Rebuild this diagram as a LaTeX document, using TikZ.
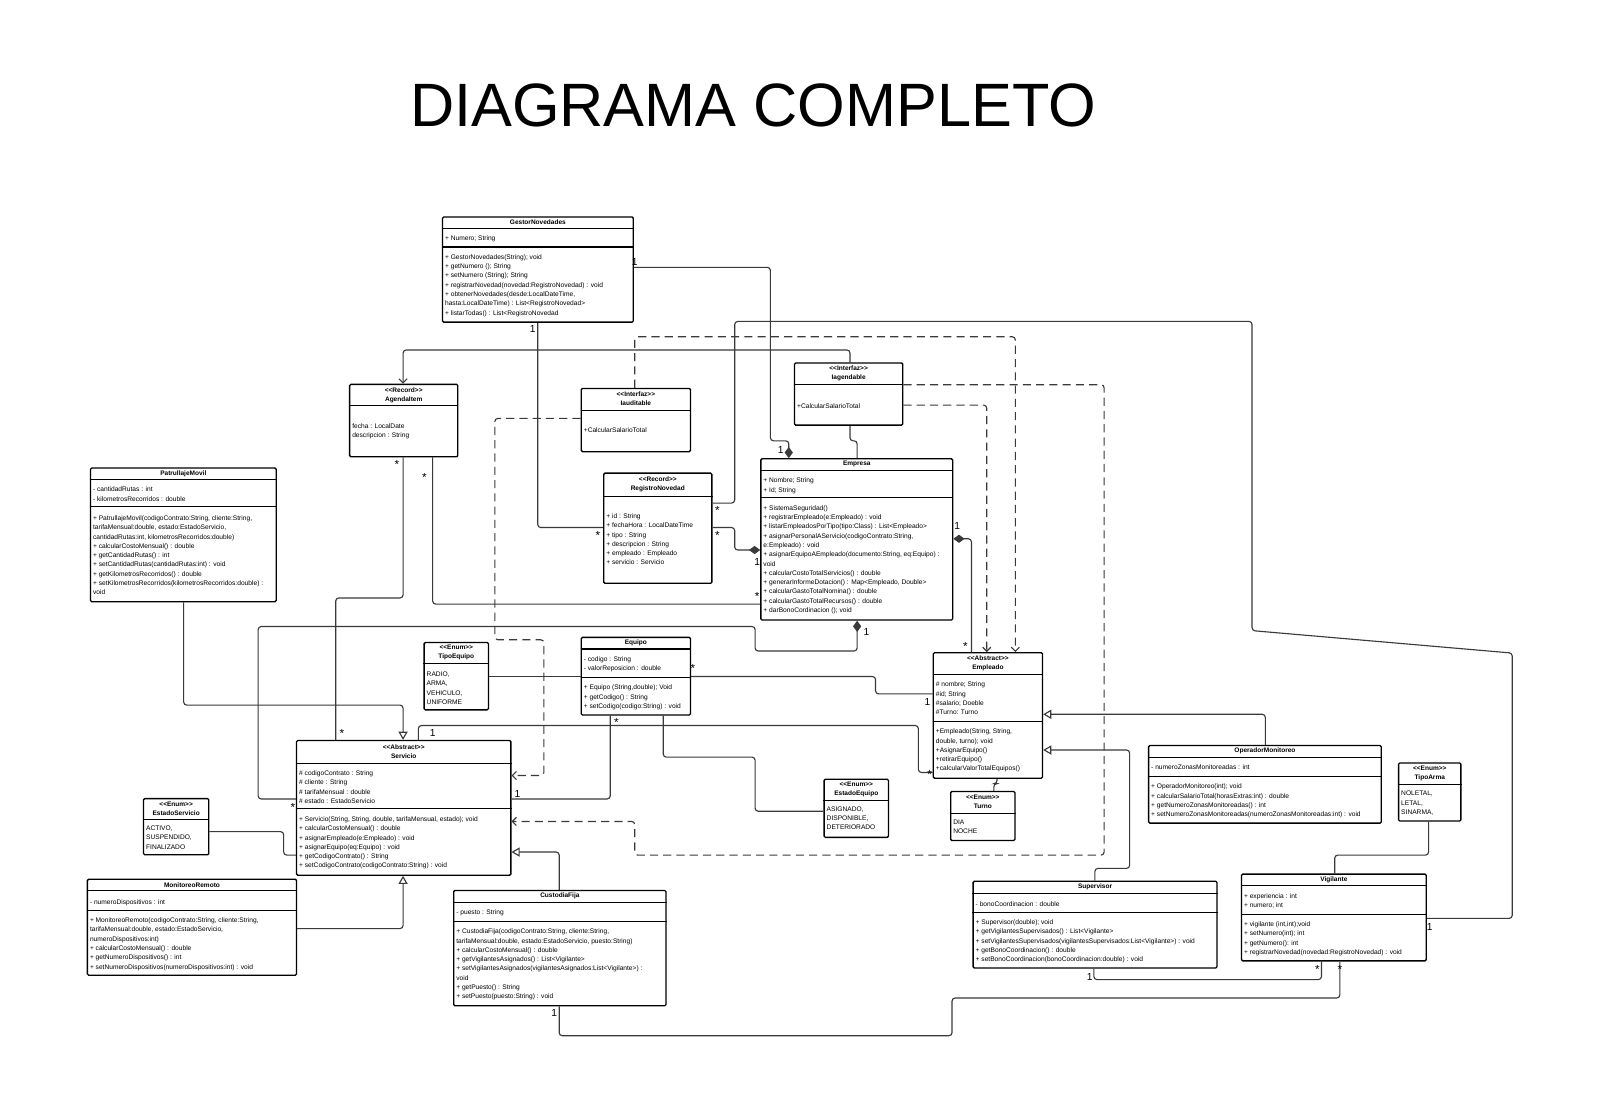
\documentclass[tikz,border=0pt]{standalone}
\usepackage{fontspec}
\setmainfont{Liberation Sans}
\usetikzlibrary{arrows.meta}
\definecolor{lineg}{HTML}{3A3A3A}
\newcommand{\stereo}[1]{<{}<#1>{}>}
\newcommand{\umlbox}[5]{\node[classbox, minimum width={(#4-#2)*1pt}, minimum height={(#5-#3)*1pt}] (#1) at (#2,#3) {};}
\newcommand{\sepline}[2]{\draw[sepl] (#1.west |- 0,#2) -- (#1.east |- 0,#2);}
\newcommand{\hdrtxt}[3]{\node[hdr] at (#1.north |- 0,#2) {#3};}
\newcommand{\bodytxt}[3]{\node[txt] at (#1.west |- 0,#2) {#3};}
\begin{document}
\begin{tikzpicture}[x=1pt, y=-1pt,
	classbox/.style={draw=black, line width=1.3pt, fill=white, rounded corners=1.2pt, anchor=north west, inner sep=0pt},
	sepl/.style={line width=1pt},
	hdr/.style={font=\fontsize{6.4}{8.8}\selectfont\bfseries, align=center, inner sep=0pt},
	txt/.style={font=\fontsize{6.5}{9.1}\selectfont, align=left, anchor=north west, inner sep=0pt, xshift=3pt, yshift=-1.2pt},
	conn/.style={draw=lineg, line width=1.1pt, rounded corners=3pt},
	dashconn/.style={conn, dash pattern=on 8pt off 5pt},
	gen/.style={-{Triangle[open, length=8pt, width=9pt]}},
	nav/.style={-{Straight Barb[length=4pt, width=8pt]}},
	comp/.style={{Diamond[length=11pt, width=8pt]}-},
	one/.style={font=\fontsize{10}{10}\selectfont, inner sep=0pt},
	many/.style={font=\fontsize{11.5}{11.5}\selectfont, inner sep=0pt}]
	\fill[white] (0,0) rectangle (1568,1087);
	\useasboundingbox (0,0) rectangle (1568,1087);
	\node[font=\fontsize{60}{60}\selectfont] (title) at (738,103) {DIAGRAMA COMPLETO};

	% GestorNovedades
	\umlbox{gestor}{433}{212}{620}{315}
	\hdrtxt{gestor}{218}{GestorNovedades}
	\sepline{gestor}{224}
	\bodytxt{gestor}{229.5}{+ Numero; String}
	\draw[line width=1.6pt] (gestor.west |- 0,242) -- (gestor.east |- 0,242);
	\bodytxt{gestor}{248}{+ GestorNovedades(String); void\\+ getNumero (); String\\+ setNumero (String); String\\+ registrarNovedad(novedad:RegistroNovedad) : void\\+ obtenerNovedades(desde:LocalDateTime,\\hasta:LocalDateTime) : List<RegistroNovedad>\\+ listarTodas() : List<RegistroNovedad}

	% AgendaItem
	\umlbox{agenda}{342}{376}{448}{447}
	\hdrtxt{agenda}{387.5}{\stereo{Record}\\AgendaItem}
	\sepline{agenda}{397}
	\bodytxt{agenda}{414}{fecha : LocalDate\\descripcion : String}

	% Iauditable
	\umlbox{iaudit}{569}{380}{676}{442}
	\hdrtxt{iaudit}{390.5}{\stereo{Interfaz}\\Iauditable}
	\sepline{iaudit}{402}
	\bodytxt{iaudit}{418}{+CalcularSalarioTotal}

	% Iagendable
	\umlbox{iagend}{778}{355}{884}{416}
	\hdrtxt{iagend}{365.5}{\stereo{Interfaz}\\Iagendable}
	\sepline{iagend}{377}
	\bodytxt{iagend}{394}{+CalcularSalarioTotal}

	% PatrullajeMovil
	\umlbox{patrullaje}{88}{458}{270}{589}
	\hdrtxt{patrullaje}{464}{PatrullajeMovil}
	\sepline{patrullaje}{470}
	\bodytxt{patrullaje}{476}{- cantidadRutas : int\\- kilometrosRecorridos : double}
	\sepline{patrullaje}{496}
	\bodytxt{patrullaje}{504}{+ PatrullajeMovil(codigoContrato:String, cliente:String,\\tarifaMensual:double, estado:EstadoServicio,\\cantidadRutas:int, kilometrosRecorridos:double)\\+ calcularCostoMensual() : double\\+ getCantidadRutas() : int\\+ setCantidadRutas(cantidadRutas:int) : void\\+ getKilometrosRecorridos() : double\\+ setKilometrosRecorridos(kilometrosRecorridos:double) :\\void}

	% RegistroNovedad
	\umlbox{registro}{591}{463}{697}{571}
	\hdrtxt{registro}{474.5}{\stereo{Record}\\RegistroNovedad}
	\sepline{registro}{487}
	\bodytxt{registro}{502}{+ id : String\\+ fechaHora : LocalDateTime\\+ tipo : String\\+ descripcion : String\\+ empleado : Empleado\\+ servicio : Servicio}

	% Empresa
	\umlbox{empresa}{745}{449}{933}{607}
	\hdrtxt{empresa}{455}{Empresa}
	\sepline{empresa}{461}
	\bodytxt{empresa}{467}{+ Nombre; String\\+ Id; String}
	\sepline{empresa}{488}
	\bodytxt{empresa}{494}{+ SistemaSeguridad()\\+ registrarEmpleado(e:Empleado) : void\\+ listarEmpleadosPorTipo(tipo:Class) : List<Empleado>\\+ asignarPersonalAServicio(codigoContrato:String,\\e:Empleado) : void\\+ asignarEquipoAEmpleado(documento:String, eq:Equipo) :\\void\\+ calcularCostoTotalServicios() : double\\+ generarInformeDotacion() : Map<Empleado, Double>\\+ calcularGastoTotalNomina() : double\\+ calcularGastoTotalRecursos() : double\\+ darBonoCordinacion (); void}

	% TipoEquipo
	\umlbox{tipoequipo}{415}{629}{478}{695}
	\hdrtxt{tipoequipo}{639.5}{\stereo{Enum}\\TipoEquipo}
	\sepline{tipoequipo}{650}
	\bodytxt{tipoequipo}{657}{RADIO,\\ARMA,\\VEHICULO,\\UNIFORME}

	% Equipo
	\umlbox{equipo}{569}{624}{676}{700}
	\hdrtxt{equipo}{630}{Equipo}
	\sepline{equipo}{636}
	\bodytxt{equipo}{642}{- codigo : String\\- valorReposicion : double}
	\sepline{equipo}{664}
	\bodytxt{equipo}{670}{+ Equipo (String,double); Void\\+ getCodigo() : String\\+ setCodigo(codigo:String) : void}

	% Empleado
	\umlbox{empleado}{914}{639}{1021}{762}
	\hdrtxt{empleado}{650.5}{\stereo{Abstract}\\Empleado}
	\sepline{empleado}{661}
	\bodytxt{empleado}{667}{\# nombre; String\\\#id; String\\\#salario; Doeble\\\#Turno: Turno}
	\sepline{empleado}{707}
	\bodytxt{empleado}{713}{+Empleado(String, String,\\double, turno); void\\+AsignarEquipo()\\+retirarEquipo()\\+calcularValorTotalEquipos()}

	% Servicio
	\umlbox{servicio}{290}{725}{500}{857}
	\hdrtxt{servicio}{736.5}{\stereo{Abstract}\\Servicio}
	\sepline{servicio}{748}
	\bodytxt{servicio}{754}{\# codigoContrato : String\\\# cliente : String\\\# tarifaMensual : double\\\# estado : EstadoServicio}
	\sepline{servicio}{792}
	\bodytxt{servicio}{799}{+ Servicio(String, String, double, tarifaMensual, estado); void\\+ calcularCostoMensual() : double\\+ asignarEmpleado(e:Empleado) : void\\+ asignarEquipo(eq:Equipo) : void\\+ getCodigoContrato() : String\\+ setCodigoContrato(codigoContrato:String) : void}

	% EstadoServicio
	\umlbox{estadoservicio}{140}{782}{204}{837}
	\hdrtxt{estadoservicio}{792.5}{\stereo{Enum}\\EstadoServicio}
	\sepline{estadoservicio}{803}
	\bodytxt{estadoservicio}{808}{ACTIVO,\\SUSPENDIDO,\\FINALIZADO}

	% MonitoreoRemoto
	\umlbox{monitoreo}{85}{861}{290}{955}
	\hdrtxt{monitoreo}{867}{MonitoreoRemoto}
	\sepline{monitoreo}{873}
	\bodytxt{monitoreo}{880}{- numeroDispositivos : int}
	\sepline{monitoreo}{892}
	\bodytxt{monitoreo}{898}{+ MonitoreoRemoto(codigoContrato:String, cliente:String,\\tarifaMensual:double, estado:EstadoServicio,\\numeroDispositivos:int)\\+ calcularCostoMensual() : double\\+ getNumeroDispositivos() : int\\+ setNumeroDispositivos(numeroDispositivos:int) : void}

	% CustodiaFija
	\umlbox{custodia}{444}{872}{652}{985}
	\hdrtxt{custodia}{878}{CustodiaFija}
	\sepline{custodia}{884}
	\bodytxt{custodia}{890}{- puesto : String}
	\sepline{custodia}{903}
	\bodytxt{custodia}{909}{+ CustodiaFija(codigoContrato:String, cliente:String,\\tarifaMensual:double, estado:EstadoServicio, puesto:String)\\+ calcularCostoMensual() : double\\+ getVigilantesAsignados() : List<Vigilante>\\+ setVigilantesAsignados(vigilantesAsignados:List<Vigilante>) :\\void\\+ getPuesto() : String\\+ setPuesto(puesto:String) : void}

	% EstadoEquipo
	\umlbox{estadoequipo}{807}{763}{870}{820}
	\hdrtxt{estadoequipo}{773.5}{\stereo{Enum}\\EstadoEquipo}
	\sepline{estadoequipo}{784}
	\bodytxt{estadoequipo}{789}{ASIGNADO,\\DISPONIBLE,\\DETERIORADO}

	% Turno
	\umlbox{turno}{931}{775}{994}{823}
	\hdrtxt{turno}{785.5}{\stereo{Enum}\\Turno}
	\sepline{turno}{797}
	\bodytxt{turno}{802}{DIA\\NOCHE}

	% OperadorMonitoreo
	\umlbox{operador}{1125}{730}{1353}{806}
	\hdrtxt{operador}{736}{OperadorMonitoreo}
	\sepline{operador}{742}
	\bodytxt{operador}{748}{- numeroZonasMonitoreadas : int}
	\sepline{operador}{761}
	\bodytxt{operador}{767}{+ OperadorMonitoreo(int); void\\+ calcularSalarioTotal(horasExtras:int) : double\\+ getNumeroZonasMonitoreadas() : int\\+ setNumeroZonasMonitoreadas(numeroZonasMonitoreadas:int) : void}

	% TipoArma
	\umlbox{tipoarma}{1370}{747}{1431}{804}
	\hdrtxt{tipoarma}{757.5}{\stereo{Enum}\\TipoArma}
	\sepline{tipoarma}{769}
	\bodytxt{tipoarma}{774}{NOLETAL,\\LETAL,\\SINARMA,}

	% Supervisor
	\umlbox{supervisor}{953}{863}{1192}{948}
	\hdrtxt{supervisor}{869}{Supervisor}
	\sepline{supervisor}{876}
	\bodytxt{supervisor}{882}{- bonoCoordinacion : double}
	\sepline{supervisor}{894}
	\bodytxt{supervisor}{900}{+ Supervisor(double); void\\+ getVigilantesSupervisados() : List<Vigilante>\\+ setVigilantesSupervisados(vigilantesSupervisados:List<Vigilante>) : void\\+ getBonoCoordinacion() : double\\+ setBonoCoordinacion(bonoCoordinacion:double) : void}

	% Vigilante
	\umlbox{vigilante}{1216}{856}{1397}{941}
	\hdrtxt{vigilante}{862}{Vigilante}
	\sepline{vigilante}{868}
	\bodytxt{vigilante}{874}{+ experiencia : int\\+ numero; int}
	\sepline{vigilante}{896}
	\bodytxt{vigilante}{902}{+ vigilante (int,int);void\\+ setNumero(int); int\\+ getNumero(): int\\+ registrarNovedad(novedad:RegistroNovedad) : void}

	% connectors
	\draw[conn, comp] (empresa.north -| 773,0) |- (755,432) |- (gestor.east |- 0,262);
	\draw[conn] (gestor.south -| 527,0) |- (registro.west |- 0,517);
	\draw[conn] (iagend.south -| 833,0) |- (840,432) -- (empresa.north -| 840,0);
	\draw[conn, nav] (iagend.north -| 833,0) |- (395,343) -- (agenda.north -| 395,0);
	\draw[conn] (vigilante.east |- 0,900) -| (1482,640) -- (1227,618) |- (720,315) |- (registro.east |- 0,493);
	\draw[conn, comp] (empresa.west |- 0,539) -- (720,539) |- (registro.east |- 0,517);
	\draw[conn] (agenda.south -| 424,0) |- (empresa.west |- 0,592);
	\draw[conn] (agenda.south -| 395,0) |- (329,586) -- (servicio.north -| 329,0);
	\draw[conn, comp] (empresa.south -| 840,0) |- (740,638) -- (740,614) -- (253,614) |- (servicio.west |- 0,783);
	\draw[conn, gen] (patrullaje.south -| 180,0) |- (395,691) -- (servicio.north -| 395,0);
	\draw[conn] (estadoservicio.east |- 0,815) -| (278,838) -- (servicio.west |- 0,838);
	\draw[conn, gen] (monitoreo.east |- 0,910) -| (servicio.south -| 395,0);
	\draw[conn, gen] (custodia.north -| 548,0) |- (servicio.east |- 0,835);
	\draw[dashconn, nav] (iaudit.west |- 0,410) -| (485,627) -| (533,760) -- (servicio.east |- 0,760);
	\draw[dashconn, nav] (iaudit.north -| 622,0) |- (995,330) -- (empleado.north -| 995,0);
	\draw[dashconn, nav] (iagend.east |- 0,397) -| (empleado.north -| 967,0);
	\draw[dashconn, nav] (iagend.east |- 0,377) -| (1082,838) -| (622,805) -- (servicio.east |- 0,805);
	\draw[conn, comp] (empresa.east |- 0,528) -| (empleado.north -| 952,0);
	\draw[conn] (equipo.east |- 0,663) -| (858,680) -- (empleado.west |- 0,680);
	\draw[conn] (tipoequipo.east |- 0,663) -- (equipo.west |- 0,663);
	\draw[conn] (equipo.south -| 598,0) |- (servicio.east |- 0,783);
	\draw[conn] (equipo.south -| 650,0) |- (740,742) |- (estadoequipo.west |- 0,795);
	\draw[conn] (servicio.north -| 410,0) |- (900,711) |- (empleado.west |- 0,757);
	\draw[conn] (empleado.south -| 977,0) -- (977,768) -- (974,768) -- (turno.north -| 974,0);
	\draw[conn, gen] (operador.north -| 1240,0) |- (empleado.east |- 0,700);
	\draw[conn, gen] (supervisor.north -| 1073,0) |- (1107,851) |- (empleado.east |- 0,735);
	\draw[conn] (vigilante.north -| 1308,0) |- (1400,838) -- (tipoarma.south -| 1400,0);
	\draw[conn] (custodia.south -| 548,0) |- (933,1015) |- (1313,978) -- (vigilante.south -| 1313,0);
	\draw[conn] (supervisor.south -| 1072,0) |- (1295,960) -- (vigilante.south -| 1295,0);

	% multiplicities
	\node[one] (m1) at (622,257) {1};
	\node[one] (m2) at (765,441) {1};
	\node[one] (m3) at (522,322) {1};
	\node[many] (m4) at (586,525) {*};
	\node[one] (m5) at (1401,908) {1};
	\node[many] (m6) at (703,500) {*};
	\node[many] (m7) at (703,525) {*};
	\node[one] (m8) at (742,551) {1};
	\node[many] (m9) at (416,468) {*};
	\node[many] (m10) at (742,585) {*};
	\node[many] (m11) at (389,455) {*};
	\node[many] (m12) at (335,719) {*};
	\node[one] (m13) at (849,619) {1};
	\node[many] (m14) at (287,791) {*};
	\node[one] (m15) at (938,515) {1};
	\node[many] (m16) at (946,634) {*};
	\node[many] (m17) at (679,655) {*};
	\node[one] (m18) at (909,688) {1};
	\node[many] (m19) at (604,708) {*};
	\node[one] (m20) at (507,778) {1};
	\node[one] (m21) at (424,718) {1};
	\node[many] (m22) at (911,759) {*};
	\node[one] (m23) at (543,993) {1};
	\node[many] (m24) at (1313,950) {*};
	\node[one] (m25) at (1068,957) {1};
	\node[many] (m26) at (1291,950) {*};
\end{tikzpicture}
\end{document}
